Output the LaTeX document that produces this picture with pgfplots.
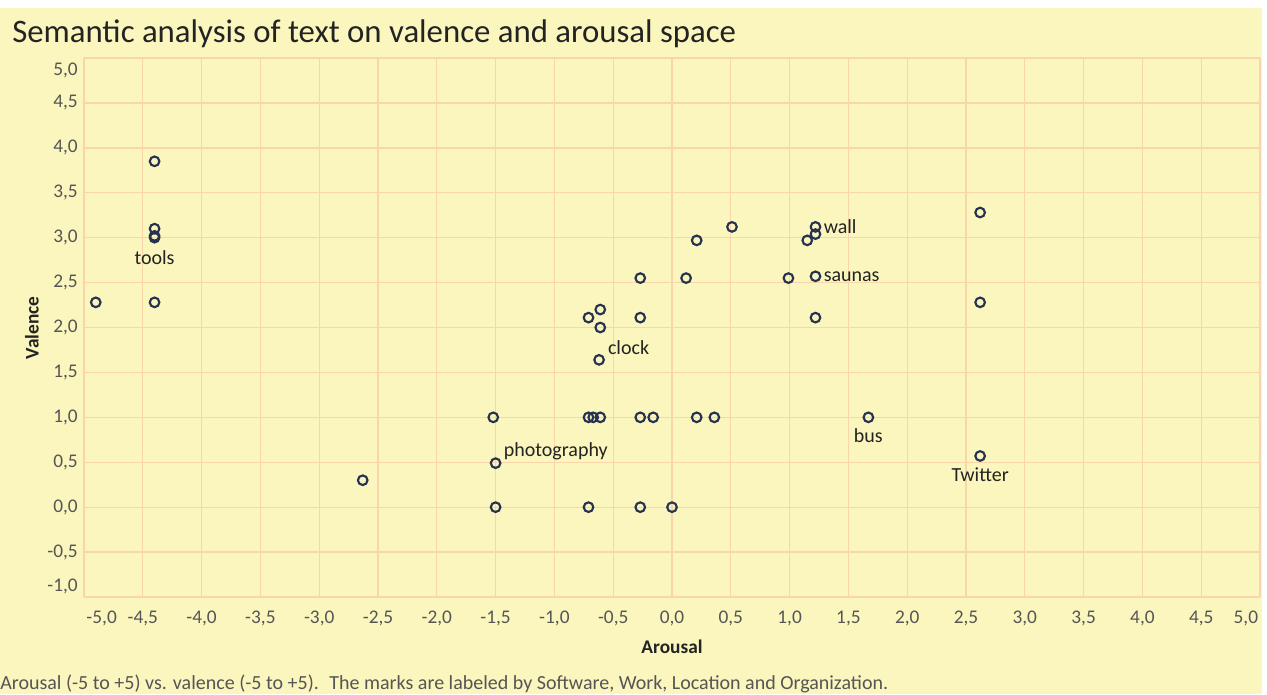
\documentclass[border=0pt]{standalone}
\usepackage{pgfplots}
\pgfplotsset{compat=1.18}
\usepackage{fontspec}
\setmainfont{Carlito}
\definecolor{bg}{RGB}{251,246,190}
\definecolor{gridc}{RGB}{248,214,170}
\definecolor{mk}{RGB}{38,50,80}
\definecolor{tickc}{RGB}{85,85,85}
\definecolor{txtc}{RGB}{35,35,35}
\pgfplotstableread{
x y
-4.4 3.85
-4.4 3.1
-4.4 3.02
-4.4 3.0
-4.9 2.28
-4.4 2.28
0.51 3.12
0.21 2.97
1.22 3.12
1.22 3.04
1.15 2.97
-0.27 2.55
0.12 2.55
0.99 2.55
1.22 2.57
-0.61 2.2
-0.71 2.11
-0.61 2.0
-0.27 2.11
1.22 2.11
-0.62 1.64
-1.52 1.0
-0.71 1.0
-0.67 1.0
-0.61 1.0
-0.27 1.0
-0.16 1.0
0.21 1.0
0.36 1.0
1.67 1.0
2.62 3.28
2.62 2.28
2.62 0.57
-1.5 0.49
-1.5 0.0
-0.71 0.0
-0.27 0.0
0.0 0.0
-2.63 0.3
}\pts
\begin{document}
\begin{tikzpicture}[x=0.75pt,y=0.75pt]
\fill[white] (0,0) rectangle (1267,694);
\fill[bg] (0,0) rectangle (1262,686);
\begin{axis}[at={(63pt,72.75pt)}, anchor=south west, scale only axis,
  width=882pt, height=404.25pt,
  xmin=-5, xmax=5, ymin=-1, ymax=5,
  axis line style={draw=none}, major tick length=0pt, minor tick length=0pt,
  minor xtick={-5,-4.5,-4,-3.5,-3,-2.5,-2,-1.5,-1,-0.5,0,0.5,1,1.5,2,2.5,3,3.5,4,4.5,5},
  minor ytick={-1,-0.5,0,0.5,1,1.5,2,2.5,3,3.5,4,4.5,5},
  xtick={-4.85,-4.5,-4,-3.5,-3,-2.5,-2,-1.5,-1,-0.5,0,0.5,1,1.5,2,2.5,3,3.5,4,4.5,4.88},
  xticklabels={{-5,0},{-4,5},{-4,0},{-3,5},{-3,0},{-2,5},{-2,0},{-1,5},{-1,0},{-0,5},{0,0},{0,5},{1,0},{1,5},{2,0},{2,5},{3,0},{3,5},{4,0},{4,5},{5,0}},
  ytick={-0.88,-0.5,0,0.5,1,1.5,2,2.5,3,3.5,4,4.5,4.86},
  yticklabels={{-1,0},{-0,5},{0,0},{0,5},{1,0},{1,5},{2,0},{2,5},{3,0},{3,5},{4,0},{4,5},{5,0}},
  grid=minor, minor grid style={draw=gridc, line width=1.0pt},
  xticklabel style={font=\fontsize{14.5}{14.5}\selectfont, text=tickc, anchor=base, inner sep=0pt, yshift=-19.6pt},
  yticklabel style={font=\fontsize{14.5}{14.5}\selectfont, text=tickc, anchor=east, inner sep=0pt, xshift=-4.5pt},
  clip=false]
\addplot[only marks, mark=o, mark size=3.6pt, mark options={draw=mk, line width=1.6pt}] table[x=x,y=y] {\pts};
\begin{scope}[every node/.style={font=\fontsize{15}{15}\selectfont, text=txtc, inner sep=0pt}]
\node[anchor=center, yshift=-15pt] at (axis cs:-4.4,3.0) {tools};
\node[anchor=west, xshift=6pt] at (axis cs:1.22,3.12) {wall};
\node[anchor=west, xshift=6pt] at (axis cs:1.22,2.57) {saunas};
\node[anchor=west, xshift=6.5pt, yshift=9pt] at (axis cs:-0.62,1.64) {clock};
\node[anchor=west, xshift=6pt, yshift=9pt] at (axis cs:-1.5,0.49) {photography};
\node[anchor=center, yshift=-13.5pt] at (axis cs:1.67,1.0) {bus};
\node[anchor=center, yshift=-14pt] at (axis cs:2.62,0.57) {Twitter};
\end{scope}
\end{axis}
\node[anchor=base west, font=\fontsize{24.6}{24.6}\selectfont, text=txtc, inner sep=0pt] at (12,651) {Semantic analysis of text on valence and arousal space};
\node[font=\fontsize{14.5}{14.5}\selectfont\bfseries, text=txtc] at (672,47) {Arousal};
\node[rotate=90, font=\fontsize{14.5}{14.5}\selectfont\bfseries, text=txtc] at (32,366) {Valence};
\node[anchor=base west, font=\fontsize{15}{15}\selectfont, text=tickc, inner sep=0pt] at (0,5) {Arousal (-5 to +5) vs. valence (-5 to +5).~ The marks are labeled by Software, Work, Location and Organization.};
\end{tikzpicture}
\end{document}
